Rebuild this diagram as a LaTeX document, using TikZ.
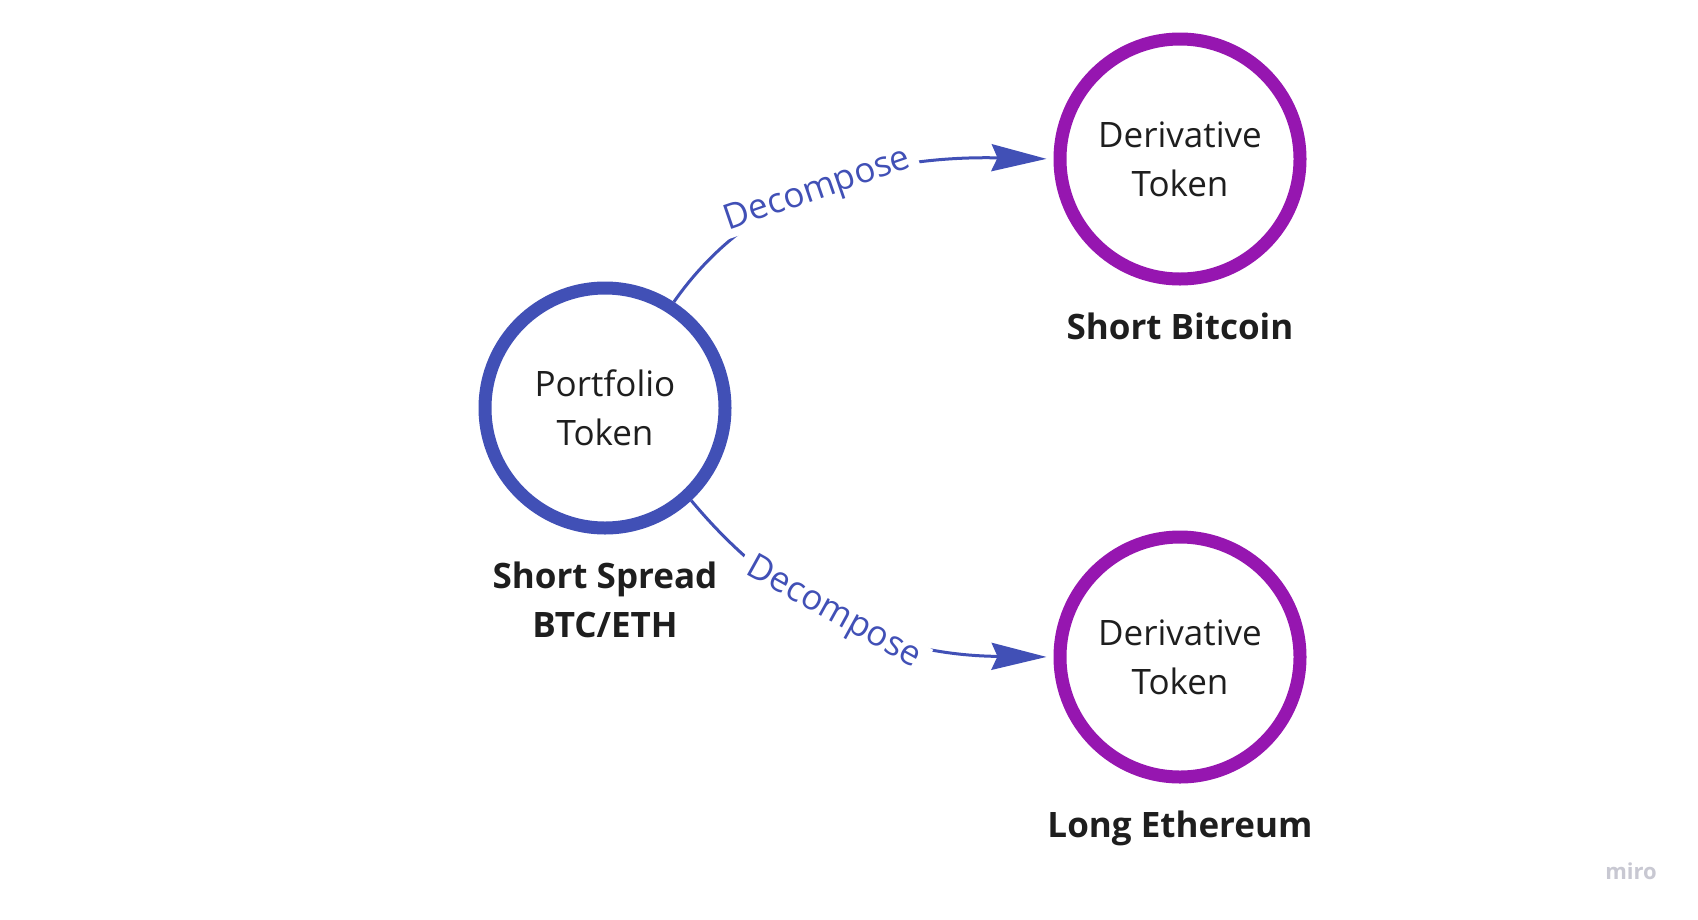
\documentclass[tikz,border=0pt]{standalone}
\usepackage{fontspec}
\setmainfont{Open Sans}
\usetikzlibrary{arrows.meta}
\definecolor{cblue}{HTML}{4150B6}
\definecolor{cpurple}{HTML}{9616B0}
\definecolor{ctext}{HTML}{1E1E1E}
\definecolor{cmiro}{HTML}{C8C8D2}
\tikzset{
  tok/.style={circle, line width=13pt, minimum size=240pt, inner sep=0pt, fill=white,
    align=center, text=ctext, font=\fontsize{35}{49}\selectfont},
  ptok/.style={tok, draw=cblue},
  dtok/.style={tok, draw=cpurple},
  captext/.style={align=center, text=ctext, font=\fontsize{35}{49}\selectfont\bfseries},
  conn/.style={draw=cblue, line width=3pt, -{Stealth[length=55pt, width=27pt, inset=6pt]}, shorten >=7pt},
  lab/.style={fill=white, text=cblue, inner xsep=8pt, inner ysep=0pt, font=\fontsize{35}{40}\selectfont}
}
\begin{document}
\begin{tikzpicture}[x=1pt,y=-1pt]
\useasboundingbox[fill=white] (0,0) rectangle (1698,919);
\node[ptok] (p) at (605,408) {Portfolio\\Token};
\node[dtok] (d1) at (1180,159) {Derivative\\Token};
\node[dtok] (d2) at (1180,657) {Derivative\\Token};
\draw[conn] (p.57) .. controls (745,200) and (860,155) .. (d1.west)
  node[lab, pos=0.5, rotate=19] {Decompose};
\draw[conn] (p.-47) .. controls (770,595) and (870,655) .. (d2.west)
  node[lab, pos=0.5, rotate=-29] {Decompose};
\node[captext] (lp) at (605,600) {Short Spread\\BTC/ETH};
\node[captext] (l1) at (1180,326) {Short Bitcoin};
\node[captext] (l2) at (1180,828) {Long Ethereum};
\node[text=cmiro, font=\fontsize{22}{24}\selectfont\bfseries] (miro) at (1631,871) {miro};
\end{tikzpicture}
\end{document}
